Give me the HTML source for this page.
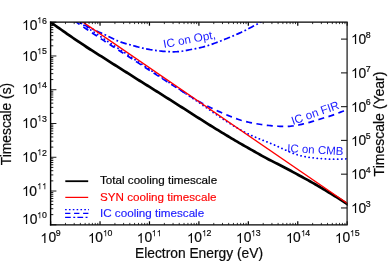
<!DOCTYPE html><html><head><meta charset="utf-8"><style>
html,body{margin:0;padding:0;background:#fff;}body{width:390px;height:271px;position:relative;overflow:hidden;font-family:"Liberation Sans",sans-serif;color:#0a0a0a;}
.t{position:absolute;white-space:nowrap;line-height:1;font-size:13.8px;-webkit-text-stroke:0.2px #0a0a0a;}
.t sup{font-size:8.8px;letter-spacing:-0.5px;position:relative;vertical-align:baseline;top:-6.4px;margin-left:-0.4px;line-height:0}
.o{display:inline-block;width:.556em;height:.72em;vertical-align:baseline;fill:currentColor;overflow:visible}
.l{position:absolute;white-space:nowrap;line-height:1;font-size:11.65px;}
</style></head><body><div id="w" style="position:absolute;left:0;top:0;width:390px;height:271px;will-change:transform">
<svg width="390" height="271" viewBox="0 0 390 271" style="position:absolute;left:0;top:0">
<defs><clipPath id="c"><rect x="50.60" y="22.20" width="297.10" height="202.60"/></clipPath></defs>
<g clip-path="url(#c)" fill="none">
<path d="M40.00,-4.32 L41.56,-3.31 L43.12,-2.29 L44.67,-1.25 L46.23,-0.20 L47.79,0.86 L49.35,1.93 L50.90,3.01 L52.46,4.10 L54.02,5.19 L55.58,6.28 L57.14,7.38 L58.69,8.48 L60.25,9.57 L61.81,10.66 L63.37,11.74 L64.92,12.82 L66.48,13.89 L68.04,14.94 L69.60,15.99 L71.16,17.02 L72.71,18.03 L74.27,19.03 L75.83,20.00 L77.39,20.96 L78.94,21.89 L80.50,22.80 L82.06,23.68 L83.62,24.54 L85.18,25.37 L86.73,26.19 L88.29,27.00 L89.85,27.79 L91.41,28.56 L92.96,29.33 L94.52,30.07 L96.08,30.80 L97.64,31.51 L99.20,32.21 L100.75,32.89 L102.31,33.58 L103.87,34.28 L105.43,34.99 L106.98,35.71 L108.54,36.47 L110.10,37.25 L111.66,38.05 L113.22,38.84 L114.77,39.60 L116.33,40.33 L117.89,40.99 L119.45,41.59 L121.01,42.15 L122.56,42.67 L124.12,43.15 L125.68,43.60 L127.24,44.04 L128.79,44.47 L130.35,44.90 L131.91,45.33 L133.47,45.76 L135.03,46.18 L136.58,46.61 L138.14,47.02 L139.70,47.42 L141.26,47.81 L142.81,48.19 L144.37,48.54 L145.93,48.87 L147.49,49.17 L149.05,49.46 L150.60,49.72 L152.16,49.96 L153.72,50.19 L155.28,50.40 L156.83,50.60 L158.39,50.79 L159.95,50.97 L161.51,51.13 L163.07,51.29 L164.62,51.43 L166.18,51.55 L167.74,51.65 L169.30,51.72 L170.85,51.78 L172.41,51.80 L173.97,51.80 L175.53,51.77 L177.09,51.70 L178.64,51.59 L180.20,51.45 L181.76,51.26 L183.32,51.03 L184.87,50.76 L186.43,50.44 L187.99,50.11 L189.55,49.78 L191.11,49.46 L192.66,49.17 L194.22,48.89 L195.78,48.61 L197.34,48.31 L198.89,47.99 L200.45,47.64 L202.01,47.26 L203.57,46.85 L205.13,46.42 L206.68,45.96 L208.24,45.48 L209.80,44.97 L211.36,44.43 L212.91,43.88 L214.47,43.31 L216.03,42.73 L217.59,42.13 L219.15,41.53 L220.70,40.92 L222.26,40.31 L223.82,39.70 L225.38,39.08 L226.93,38.46 L228.49,37.83 L230.05,37.19 L231.61,36.55 L233.17,35.89 L234.72,35.22 L236.28,34.54 L237.84,33.85 L239.40,33.14 L240.95,32.42 L242.51,31.68 L244.07,30.93 L245.63,30.16 L247.19,29.37 L248.74,28.57 L250.30,27.77 L251.86,26.95 L253.42,26.12 L254.97,25.28 L256.53,24.43 L258.09,23.58 L259.65,22.72 L261.21,21.85 L262.76,20.98 L264.32,20.11 L265.88,19.23 L267.44,18.35 L268.99,17.46 L270.55,16.57 L272.11,15.67 L273.67,14.77 L275.23,13.87 L276.78,12.96 L278.34,12.05 L279.90,11.13 L281.46,10.21 L283.02,9.29 L284.57,8.36 L286.13,7.43 L287.69,6.50 L289.25,5.56 L290.80,4.62 L292.36,3.68 L293.92,2.73 L295.48,1.78 L297.04,0.82 L298.59,-0.13 L300.15,-1.09 L301.71,-2.06 L303.27,-3.02 L304.82,-3.99 L306.38,-4.96 L307.94,-5.93 L309.50,-6.91 L311.06,-7.89 L312.61,-8.87 L314.17,-9.85 L315.73,-10.84 L317.29,-11.83 L318.84,-12.82 L320.40,-13.81 L321.96,-14.81 L323.52,-15.80 L325.08,-16.80 L326.63,-17.80 L328.19,-18.81 L329.75,-19.81 L331.31,-20.82 L332.86,-21.82 L334.42,-22.83 L335.98,-23.84 L337.54,-24.86 L339.10,-25.87 L340.65,-26.89 L342.21,-27.90 L343.77,-28.92 L345.33,-29.94 L346.88,-30.96 L348.44,-31.98 L350.00,-33.00" stroke="#0000ff" stroke-width="1.7" stroke-dasharray="6.5 2.5 1.8 2.5"/>
<path d="M40.00,-2.72 L41.56,-1.66 L43.12,-0.59 L44.67,0.47 L46.23,1.54 L47.79,2.61 L49.35,3.67 L50.90,4.74 L52.46,5.81 L54.02,6.88 L55.58,7.95 L57.14,9.02 L58.69,10.10 L60.25,11.17 L61.81,12.24 L63.37,13.31 L64.92,14.38 L66.48,15.45 L68.04,16.52 L69.60,17.59 L71.16,18.66 L72.71,19.72 L74.27,20.79 L75.83,21.85 L77.39,22.92 L78.94,23.98 L80.50,25.04 L82.06,26.10 L83.62,27.15 L85.18,28.21 L86.73,29.26 L88.29,30.31 L89.85,31.36 L91.41,32.40 L92.96,33.45 L94.52,34.49 L96.08,35.52 L97.64,36.56 L99.20,37.59 L100.75,38.61 L102.31,39.64 L103.87,40.66 L105.43,41.68 L106.98,42.69 L108.54,43.71 L110.10,44.72 L111.66,45.73 L113.22,46.74 L114.77,47.75 L116.33,48.75 L117.89,49.76 L119.45,50.77 L121.01,51.77 L122.56,52.78 L124.12,53.78 L125.68,54.79 L127.24,55.80 L128.79,56.80 L130.35,57.81 L131.91,58.83 L133.47,59.84 L135.03,60.85 L136.58,61.87 L138.14,62.88 L139.70,63.90 L141.26,64.92 L142.81,65.93 L144.37,66.95 L145.93,67.97 L147.49,68.99 L149.05,70.01 L150.60,71.02 L152.16,72.04 L153.72,73.06 L155.28,74.07 L156.83,75.09 L158.39,76.10 L159.95,77.11 L161.51,78.12 L163.07,79.13 L164.62,80.14 L166.18,81.14 L167.74,82.15 L169.30,83.15 L170.85,84.15 L172.41,85.14 L173.97,86.14 L175.53,87.13 L177.09,88.12 L178.64,89.10 L180.20,90.08 L181.76,91.06 L183.32,92.04 L184.87,93.02 L186.43,93.99 L187.99,94.95 L189.55,95.91 L191.11,96.86 L192.66,97.81 L194.22,98.74 L195.78,99.66 L197.34,100.56 L198.89,101.46 L200.45,102.33 L202.01,103.19 L203.57,104.03 L205.13,104.85 L206.68,105.66 L208.24,106.45 L209.80,107.23 L211.36,107.99 L212.91,108.74 L214.47,109.48 L216.03,110.20 L217.59,110.91 L219.15,111.61 L220.70,112.30 L222.26,112.98 L223.82,113.64 L225.38,114.30 L226.93,114.95 L228.49,115.60 L230.05,116.23 L231.61,116.85 L233.17,117.46 L234.72,118.06 L236.28,118.63 L237.84,119.18 L239.40,119.70 L240.95,120.20 L242.51,120.66 L244.07,121.09 L245.63,121.49 L247.19,121.86 L248.74,122.22 L250.30,122.55 L251.86,122.87 L253.42,123.17 L254.97,123.46 L256.53,123.75 L258.09,124.02 L259.65,124.28 L261.21,124.52 L262.76,124.75 L264.32,124.97 L265.88,125.18 L267.44,125.36 L268.99,125.53 L270.55,125.69 L272.11,125.82 L273.67,125.95 L275.23,126.06 L276.78,126.15 L278.34,126.24 L279.90,126.31 L281.46,126.37 L283.02,126.41 L284.57,126.43 L286.13,126.42 L287.69,126.37 L289.25,126.30 L290.80,126.17 L292.36,126.00 L293.92,125.80 L295.48,125.55 L297.04,125.27 L298.59,124.97 L300.15,124.64 L301.71,124.30 L303.27,123.94 L304.82,123.56 L306.38,123.17 L307.94,122.76 L309.50,122.33 L311.06,121.88 L312.61,121.42 L314.17,120.93 L315.73,120.44 L317.29,119.95 L318.84,119.46 L320.40,118.97 L321.96,118.50 L323.52,118.04 L325.08,117.59 L326.63,117.13 L328.19,116.66 L329.75,116.18 L331.31,115.67 L332.86,115.12 L334.42,114.55 L335.98,113.95 L337.54,113.35 L339.10,112.74 L340.65,112.13 L342.21,111.53 L343.77,110.96 L345.33,110.41 L346.88,109.89 L348.44,109.42 L350.00,109.00" stroke="#0000ff" stroke-width="1.7" stroke-dasharray="6 4.5"/>
<path d="M40.00,-4.82 L41.56,-3.75 L43.12,-2.69 L44.67,-1.62 L46.23,-0.56 L47.79,0.51 L49.35,1.58 L50.90,2.65 L52.46,3.72 L54.02,4.79 L55.58,5.86 L57.14,6.93 L58.69,8.00 L60.25,9.07 L61.81,10.14 L63.37,11.21 L64.92,12.28 L66.48,13.35 L68.04,14.42 L69.60,15.49 L71.16,16.56 L72.71,17.63 L74.27,18.70 L75.83,19.77 L77.39,20.83 L78.94,21.90 L80.50,22.97 L82.06,24.03 L83.62,25.10 L85.18,26.16 L86.73,27.22 L88.29,28.28 L89.85,29.34 L91.41,30.40 L92.96,31.46 L94.52,32.52 L96.08,33.57 L97.64,34.62 L99.20,35.68 L100.75,36.73 L102.31,37.77 L103.87,38.82 L105.43,39.87 L106.98,40.91 L108.54,41.95 L110.10,42.99 L111.66,44.04 L113.22,45.08 L114.77,46.12 L116.33,47.16 L117.89,48.20 L119.45,49.24 L121.01,50.28 L122.56,51.31 L124.12,52.35 L125.68,53.40 L127.24,54.44 L128.79,55.48 L130.35,56.52 L131.91,57.57 L133.47,58.61 L135.03,59.66 L136.58,60.70 L138.14,61.75 L139.70,62.80 L141.26,63.84 L142.81,64.89 L144.37,65.94 L145.93,66.99 L147.49,68.04 L149.05,69.09 L150.60,70.13 L152.16,71.18 L153.72,72.23 L155.28,73.27 L156.83,74.32 L158.39,75.36 L159.95,76.41 L161.51,77.45 L163.07,78.49 L164.62,79.53 L166.18,80.57 L167.74,81.61 L169.30,82.64 L170.85,83.68 L172.41,84.71 L173.97,85.75 L175.53,86.79 L177.09,87.82 L178.64,88.86 L180.20,89.89 L181.76,90.93 L183.32,91.97 L184.87,93.02 L186.43,94.06 L187.99,95.11 L189.55,96.15 L191.11,97.21 L192.66,98.26 L194.22,99.32 L195.78,100.38 L197.34,101.45 L198.89,102.52 L200.45,103.59 L202.01,104.67 L203.57,105.75 L205.13,106.84 L206.68,107.92 L208.24,109.01 L209.80,110.09 L211.36,111.18 L212.91,112.26 L214.47,113.34 L216.03,114.41 L217.59,115.48 L219.15,116.54 L220.70,117.59 L222.26,118.64 L223.82,119.68 L225.38,120.70 L226.93,121.71 L228.49,122.72 L230.05,123.70 L231.61,124.68 L233.17,125.64 L234.72,126.58 L236.28,127.50 L237.84,128.41 L239.40,129.30 L240.95,130.17 L242.51,131.02 L244.07,131.84 L245.63,132.65 L247.19,133.44 L248.74,134.20 L250.30,134.94 L251.86,135.66 L253.42,136.36 L254.97,137.03 L256.53,137.70 L258.09,138.35 L259.65,138.99 L261.21,139.62 L262.76,140.24 L264.32,140.86 L265.88,141.49 L267.44,142.11 L268.99,142.74 L270.55,143.37 L272.11,144.02 L273.67,144.68 L275.23,145.35 L276.78,146.04 L278.34,146.74 L279.90,147.46 L281.46,148.18 L283.02,148.90 L284.57,149.62 L286.13,150.33 L287.69,151.02 L289.25,151.71 L290.80,152.37 L292.36,153.00 L293.92,153.60 L295.48,154.17 L297.04,154.70 L298.59,155.18 L300.15,155.61 L301.71,156.01 L303.27,156.36 L304.82,156.68 L306.38,156.97 L307.94,157.22 L309.50,157.45 L311.06,157.66 L312.61,157.85 L314.17,158.02 L315.73,158.18 L317.29,158.33 L318.84,158.47 L320.40,158.61 L321.96,158.73 L323.52,158.83 L325.08,158.93 L326.63,159.01 L328.19,159.08 L329.75,159.13 L331.31,159.17 L332.86,159.19 L334.42,159.20 L335.98,159.19 L337.54,159.16 L339.10,159.12 L340.65,159.07 L342.21,159.01 L343.77,158.93 L345.33,158.86 L346.88,158.77 L348.44,158.69 L350.00,158.60" stroke="#0000ff" stroke-width="1.8" stroke-linecap="round" stroke-dasharray="0.1 4.0"/>
<path d="M46.00,19.09 L47.91,20.42 L49.82,21.74 L51.74,23.07 L53.65,24.41 L55.56,25.74 L57.47,27.08 L59.38,28.41 L61.30,29.75 L63.21,31.10 L65.12,32.44 L67.03,33.77 L68.94,35.10 L70.86,36.43 L72.77,37.75 L74.68,39.06 L76.59,40.37 L78.50,41.66 L80.42,42.95 L82.33,44.22 L84.24,45.49 L86.15,46.75 L88.06,48.00 L89.97,49.25 L91.89,50.46 L93.80,51.68 L95.71,52.88 L97.62,54.08 L99.53,55.28 L101.45,56.47 L103.36,57.66 L105.27,58.86 L107.18,60.06 L109.09,61.27 L111.01,62.51 L112.92,63.76 L114.83,65.00 L116.74,66.24 L118.65,67.46 L120.57,68.67 L122.48,69.87 L124.39,71.07 L126.30,72.26 L128.21,73.46 L130.13,74.67 L132.04,75.88 L133.95,77.09 L135.86,78.31 L137.77,79.53 L139.69,80.76 L141.60,81.95 L143.51,83.14 L145.42,84.33 L147.33,85.52 L149.25,86.71 L151.16,87.91 L153.07,89.10 L154.98,90.30 L156.89,91.50 L158.81,92.70 L160.72,93.91 L162.63,95.11 L164.54,96.32 L166.45,97.53 L168.36,98.74 L170.28,99.95 L172.19,101.16 L174.10,102.37 L176.01,103.59 L177.92,104.80 L179.84,106.02 L181.75,107.24 L183.66,108.46 L185.57,109.68 L187.48,110.91 L189.40,112.13 L191.31,113.36 L193.22,114.58 L195.13,115.81 L197.04,117.03 L198.96,118.25 L200.87,119.46 L202.78,120.68 L204.69,121.88 L206.60,123.09 L208.52,124.29 L210.43,125.48 L212.34,126.67 L214.25,127.86 L216.16,129.04 L218.08,130.21 L219.99,131.38 L221.90,132.55 L223.81,133.71 L225.72,134.86 L227.64,136.02 L229.55,137.17 L231.46,138.31 L233.37,139.45 L235.28,140.57 L237.19,141.69 L239.11,142.80 L241.02,143.89 L242.93,144.99 L244.84,146.07 L246.75,147.16 L248.67,148.25 L250.58,149.33 L252.49,150.42 L254.40,151.51 L256.31,152.60 L258.23,153.69 L260.14,154.77 L262.05,155.84 L263.96,156.89 L265.87,157.93 L267.79,158.94 L269.70,159.94 L271.61,160.92 L273.52,161.88 L275.43,162.85 L277.35,163.81 L279.26,164.77 L281.17,165.75 L283.08,166.73 L284.99,167.73 L286.91,168.74 L288.82,169.76 L290.73,170.79 L292.64,171.82 L294.55,172.86 L296.47,173.91 L298.38,174.95 L300.29,175.99 L302.20,177.04 L304.11,178.09 L306.03,179.14 L307.94,180.19 L309.85,181.26 L311.76,182.33 L313.67,183.41 L315.58,184.51 L317.50,185.62 L319.41,186.73 L321.32,187.86 L323.23,189.00 L325.14,190.15 L327.06,191.31 L328.97,192.48 L330.88,193.66 L332.79,194.84 L334.70,196.03 L336.62,197.23 L338.53,198.44 L340.44,199.66 L342.35,200.88 L344.26,202.11 L346.18,203.34 L348.09,204.59 L350.00,205.84" stroke="#000" stroke-width="2.7"/>
<path d="M50.60,-0.05 L347.50,203.50" stroke="#ff0000" stroke-width="1.4"/>
</g>
<g fill="none" stroke="#000">
<path d="M50.60,224.80 h5.8" stroke-width="0.9"/>
<path d="M50.60,214.64 h2.7" stroke-width="0.9"/>
<path d="M50.60,208.69 h2.7" stroke-width="0.9"/>
<path d="M50.60,204.47 h2.7" stroke-width="0.9"/>
<path d="M50.60,201.20 h2.7" stroke-width="0.9"/>
<path d="M50.60,198.52 h2.7" stroke-width="0.9"/>
<path d="M50.60,196.26 h2.7" stroke-width="0.9"/>
<path d="M50.60,194.31 h2.7" stroke-width="0.9"/>
<path d="M50.60,192.58 h2.7" stroke-width="0.9"/>
<path d="M50.60,191.03 h5.8" stroke-width="0.9"/>
<path d="M50.60,180.87 h2.7" stroke-width="0.9"/>
<path d="M50.60,174.92 h2.7" stroke-width="0.9"/>
<path d="M50.60,170.70 h2.7" stroke-width="0.9"/>
<path d="M50.60,167.43 h2.7" stroke-width="0.9"/>
<path d="M50.60,164.76 h2.7" stroke-width="0.9"/>
<path d="M50.60,162.50 h2.7" stroke-width="0.9"/>
<path d="M50.60,160.54 h2.7" stroke-width="0.9"/>
<path d="M50.60,158.81 h2.7" stroke-width="0.9"/>
<path d="M50.60,157.27 h5.8" stroke-width="0.9"/>
<path d="M50.60,147.10 h2.7" stroke-width="0.9"/>
<path d="M50.60,141.16 h2.7" stroke-width="0.9"/>
<path d="M50.60,136.94 h2.7" stroke-width="0.9"/>
<path d="M50.60,133.66 h2.7" stroke-width="0.9"/>
<path d="M50.60,130.99 h2.7" stroke-width="0.9"/>
<path d="M50.60,128.73 h2.7" stroke-width="0.9"/>
<path d="M50.60,126.77 h2.7" stroke-width="0.9"/>
<path d="M50.60,125.05 h2.7" stroke-width="0.9"/>
<path d="M50.60,123.50 h5.8" stroke-width="0.9"/>
<path d="M50.60,113.34 h2.7" stroke-width="0.9"/>
<path d="M50.60,107.39 h2.7" stroke-width="0.9"/>
<path d="M50.60,103.17 h2.7" stroke-width="0.9"/>
<path d="M50.60,99.90 h2.7" stroke-width="0.9"/>
<path d="M50.60,97.22 h2.7" stroke-width="0.9"/>
<path d="M50.60,94.96 h2.7" stroke-width="0.9"/>
<path d="M50.60,93.01 h2.7" stroke-width="0.9"/>
<path d="M50.60,91.28 h2.7" stroke-width="0.9"/>
<path d="M50.60,89.73 h5.8" stroke-width="0.9"/>
<path d="M50.60,79.57 h2.7" stroke-width="0.9"/>
<path d="M50.60,73.62 h2.7" stroke-width="0.9"/>
<path d="M50.60,69.40 h2.7" stroke-width="0.9"/>
<path d="M50.60,66.13 h2.7" stroke-width="0.9"/>
<path d="M50.60,63.46 h2.7" stroke-width="0.9"/>
<path d="M50.60,61.20 h2.7" stroke-width="0.9"/>
<path d="M50.60,59.24 h2.7" stroke-width="0.9"/>
<path d="M50.60,57.51 h2.7" stroke-width="0.9"/>
<path d="M50.60,55.97 h5.8" stroke-width="0.9"/>
<path d="M50.60,45.80 h2.7" stroke-width="0.9"/>
<path d="M50.60,39.86 h2.7" stroke-width="0.9"/>
<path d="M50.60,35.64 h2.7" stroke-width="0.9"/>
<path d="M50.60,32.36 h2.7" stroke-width="0.9"/>
<path d="M50.60,29.69 h2.7" stroke-width="0.9"/>
<path d="M50.60,27.43 h2.7" stroke-width="0.9"/>
<path d="M50.60,25.47 h2.7" stroke-width="0.9"/>
<path d="M50.60,23.75 h2.7" stroke-width="0.9"/>
<path d="M50.60,22.20 h5.8" stroke-width="0.9"/>
<path d="M50.60,224.80 v-3.5" stroke-width="1.2"/>
<path d="M50.60,22.20 v3.5" stroke-width="1.2"/>
<path d="M65.48,224.80 v-1.9" stroke-width="0.8"/>
<path d="M65.48,22.20 v1.9" stroke-width="0.8"/>
<path d="M74.19,224.80 v-1.9" stroke-width="0.8"/>
<path d="M74.19,22.20 v1.9" stroke-width="0.8"/>
<path d="M80.36,224.80 v-1.9" stroke-width="0.8"/>
<path d="M80.36,22.20 v1.9" stroke-width="0.8"/>
<path d="M85.15,224.80 v-1.9" stroke-width="0.8"/>
<path d="M85.15,22.20 v1.9" stroke-width="0.8"/>
<path d="M89.07,224.80 v-1.9" stroke-width="0.8"/>
<path d="M89.07,22.20 v1.9" stroke-width="0.8"/>
<path d="M92.38,224.80 v-1.9" stroke-width="0.8"/>
<path d="M92.38,22.20 v1.9" stroke-width="0.8"/>
<path d="M95.24,224.80 v-1.9" stroke-width="0.8"/>
<path d="M95.24,22.20 v1.9" stroke-width="0.8"/>
<path d="M97.77,224.80 v-1.9" stroke-width="0.8"/>
<path d="M97.77,22.20 v1.9" stroke-width="0.8"/>
<path d="M100.03,224.80 v-3.5" stroke-width="1.2"/>
<path d="M100.03,22.20 v3.5" stroke-width="1.2"/>
<path d="M114.91,224.80 v-1.9" stroke-width="0.8"/>
<path d="M114.91,22.20 v1.9" stroke-width="0.8"/>
<path d="M123.62,224.80 v-1.9" stroke-width="0.8"/>
<path d="M123.62,22.20 v1.9" stroke-width="0.8"/>
<path d="M129.80,224.80 v-1.9" stroke-width="0.8"/>
<path d="M129.80,22.20 v1.9" stroke-width="0.8"/>
<path d="M134.59,224.80 v-1.9" stroke-width="0.8"/>
<path d="M134.59,22.20 v1.9" stroke-width="0.8"/>
<path d="M138.50,224.80 v-1.9" stroke-width="0.8"/>
<path d="M138.50,22.20 v1.9" stroke-width="0.8"/>
<path d="M141.81,224.80 v-1.9" stroke-width="0.8"/>
<path d="M141.81,22.20 v1.9" stroke-width="0.8"/>
<path d="M144.68,224.80 v-1.9" stroke-width="0.8"/>
<path d="M144.68,22.20 v1.9" stroke-width="0.8"/>
<path d="M147.20,224.80 v-1.9" stroke-width="0.8"/>
<path d="M147.20,22.20 v1.9" stroke-width="0.8"/>
<path d="M149.47,224.80 v-3.5" stroke-width="1.2"/>
<path d="M149.47,22.20 v3.5" stroke-width="1.2"/>
<path d="M164.35,224.80 v-1.9" stroke-width="0.8"/>
<path d="M164.35,22.20 v1.9" stroke-width="0.8"/>
<path d="M173.05,224.80 v-1.9" stroke-width="0.8"/>
<path d="M173.05,22.20 v1.9" stroke-width="0.8"/>
<path d="M179.23,224.80 v-1.9" stroke-width="0.8"/>
<path d="M179.23,22.20 v1.9" stroke-width="0.8"/>
<path d="M184.02,224.80 v-1.9" stroke-width="0.8"/>
<path d="M184.02,22.20 v1.9" stroke-width="0.8"/>
<path d="M187.93,224.80 v-1.9" stroke-width="0.8"/>
<path d="M187.93,22.20 v1.9" stroke-width="0.8"/>
<path d="M191.24,224.80 v-1.9" stroke-width="0.8"/>
<path d="M191.24,22.20 v1.9" stroke-width="0.8"/>
<path d="M194.11,224.80 v-1.9" stroke-width="0.8"/>
<path d="M194.11,22.20 v1.9" stroke-width="0.8"/>
<path d="M196.64,224.80 v-1.9" stroke-width="0.8"/>
<path d="M196.64,22.20 v1.9" stroke-width="0.8"/>
<path d="M198.90,224.80 v-3.5" stroke-width="1.2"/>
<path d="M198.90,22.20 v3.5" stroke-width="1.2"/>
<path d="M213.78,224.80 v-1.9" stroke-width="0.8"/>
<path d="M213.78,22.20 v1.9" stroke-width="0.8"/>
<path d="M222.49,224.80 v-1.9" stroke-width="0.8"/>
<path d="M222.49,22.20 v1.9" stroke-width="0.8"/>
<path d="M228.66,224.80 v-1.9" stroke-width="0.8"/>
<path d="M228.66,22.20 v1.9" stroke-width="0.8"/>
<path d="M233.45,224.80 v-1.9" stroke-width="0.8"/>
<path d="M233.45,22.20 v1.9" stroke-width="0.8"/>
<path d="M237.37,224.80 v-1.9" stroke-width="0.8"/>
<path d="M237.37,22.20 v1.9" stroke-width="0.8"/>
<path d="M240.68,224.80 v-1.9" stroke-width="0.8"/>
<path d="M240.68,22.20 v1.9" stroke-width="0.8"/>
<path d="M243.54,224.80 v-1.9" stroke-width="0.8"/>
<path d="M243.54,22.20 v1.9" stroke-width="0.8"/>
<path d="M246.07,224.80 v-1.9" stroke-width="0.8"/>
<path d="M246.07,22.20 v1.9" stroke-width="0.8"/>
<path d="M248.33,224.80 v-3.5" stroke-width="1.2"/>
<path d="M248.33,22.20 v3.5" stroke-width="1.2"/>
<path d="M263.21,224.80 v-1.9" stroke-width="0.8"/>
<path d="M263.21,22.20 v1.9" stroke-width="0.8"/>
<path d="M271.92,224.80 v-1.9" stroke-width="0.8"/>
<path d="M271.92,22.20 v1.9" stroke-width="0.8"/>
<path d="M278.10,224.80 v-1.9" stroke-width="0.8"/>
<path d="M278.10,22.20 v1.9" stroke-width="0.8"/>
<path d="M282.89,224.80 v-1.9" stroke-width="0.8"/>
<path d="M282.89,22.20 v1.9" stroke-width="0.8"/>
<path d="M286.80,224.80 v-1.9" stroke-width="0.8"/>
<path d="M286.80,22.20 v1.9" stroke-width="0.8"/>
<path d="M290.11,224.80 v-1.9" stroke-width="0.8"/>
<path d="M290.11,22.20 v1.9" stroke-width="0.8"/>
<path d="M292.98,224.80 v-1.9" stroke-width="0.8"/>
<path d="M292.98,22.20 v1.9" stroke-width="0.8"/>
<path d="M295.50,224.80 v-1.9" stroke-width="0.8"/>
<path d="M295.50,22.20 v1.9" stroke-width="0.8"/>
<path d="M297.77,224.80 v-3.5" stroke-width="1.2"/>
<path d="M297.77,22.20 v3.5" stroke-width="1.2"/>
<path d="M312.65,224.80 v-1.9" stroke-width="0.8"/>
<path d="M312.65,22.20 v1.9" stroke-width="0.8"/>
<path d="M321.35,224.80 v-1.9" stroke-width="0.8"/>
<path d="M321.35,22.20 v1.9" stroke-width="0.8"/>
<path d="M327.53,224.80 v-1.9" stroke-width="0.8"/>
<path d="M327.53,22.20 v1.9" stroke-width="0.8"/>
<path d="M332.32,224.80 v-1.9" stroke-width="0.8"/>
<path d="M332.32,22.20 v1.9" stroke-width="0.8"/>
<path d="M336.23,224.80 v-1.9" stroke-width="0.8"/>
<path d="M336.23,22.20 v1.9" stroke-width="0.8"/>
<path d="M339.54,224.80 v-1.9" stroke-width="0.8"/>
<path d="M339.54,22.20 v1.9" stroke-width="0.8"/>
<path d="M342.41,224.80 v-1.9" stroke-width="0.8"/>
<path d="M342.41,22.20 v1.9" stroke-width="0.8"/>
<path d="M344.94,224.80 v-1.9" stroke-width="0.8"/>
<path d="M344.94,22.20 v1.9" stroke-width="0.8"/>
<path d="M347.20,224.80 v-3.5" stroke-width="1.2"/>
<path d="M347.20,22.20 v3.5" stroke-width="1.2"/>
<path d="M347.20,207.95 h-6.2" stroke="#1c1c1c" stroke-width="1.1"/>
<path d="M347.20,174.18 h-6.2" stroke="#1c1c1c" stroke-width="1.1"/>
<path d="M347.20,140.41 h-6.2" stroke="#1c1c1c" stroke-width="1.1"/>
<path d="M347.20,106.65 h-6.2" stroke="#1c1c1c" stroke-width="1.1"/>
<path d="M347.20,72.88 h-6.2" stroke="#1c1c1c" stroke-width="1.1"/>
<path d="M347.20,39.11 h-6.2" stroke="#1c1c1c" stroke-width="1.1"/>
<path d="M50.60,21.50 V225.50" stroke-width="1.4"/>
<path d="M49.90,22.20 H347.70" stroke-width="1.3"/>
<path d="M49.90,224.80 H347.70" stroke-width="1.3"/>
<path d="M347.10,22.20 V224.80" stroke="#1c1c1c" stroke-width="1.25"/>
</g>
<g fill="none">
<path d="M65.3,181.2 H88.2" stroke="#000" stroke-width="1.8"/>
<path d="M65.3,197.4 H88.2" stroke="#ff0000" stroke-width="1.25"/>
<path d="M65.1,209.5 H89" stroke="#0000ff" stroke-width="1.25" stroke-dasharray="1.6 2.24"/>
<path d="M65.1,213.3 H88.7" stroke="#0000ff" stroke-width="1.25" stroke-dasharray="5.3 3.7"/>
<path d="M65.1,217.3 H88" stroke="#0000ff" stroke-width="1.25" stroke-dasharray="5.7 2.5 1.9 2.2"/>
</g>
</svg>
<div class="t" style="right:343.60px;top:213.35px"><svg class="o" viewBox="0 -720 556 720"><path d="M373 0H285V-560Q253-530 202-500Q150-470 109-455V-540Q183-575 238-624Q293-674 316-720H373Z"/></svg>0<sup><svg class="o" viewBox="0 -720 556 720"><path d="M373 0H285V-560Q253-530 202-500Q150-470 109-455V-540Q183-575 238-624Q293-674 316-720H373Z"/></svg>0</sup></div>
<div class="t" style="right:343.60px;top:184.68px"><svg class="o" viewBox="0 -720 556 720"><path d="M373 0H285V-560Q253-530 202-500Q150-470 109-455V-540Q183-575 238-624Q293-674 316-720H373Z"/></svg>0<sup><svg class="o" viewBox="0 -720 556 720"><path d="M373 0H285V-560Q253-530 202-500Q150-470 109-455V-540Q183-575 238-624Q293-674 316-720H373Z"/></svg><svg class="o" viewBox="0 -720 556 720"><path d="M373 0H285V-560Q253-530 202-500Q150-470 109-455V-540Q183-575 238-624Q293-674 316-720H373Z"/></svg></sup></div>
<div class="t" style="right:343.60px;top:150.92px"><svg class="o" viewBox="0 -720 556 720"><path d="M373 0H285V-560Q253-530 202-500Q150-470 109-455V-540Q183-575 238-624Q293-674 316-720H373Z"/></svg>0<sup><svg class="o" viewBox="0 -720 556 720"><path d="M373 0H285V-560Q253-530 202-500Q150-470 109-455V-540Q183-575 238-624Q293-674 316-720H373Z"/></svg>2</sup></div>
<div class="t" style="right:343.60px;top:117.15px"><svg class="o" viewBox="0 -720 556 720"><path d="M373 0H285V-560Q253-530 202-500Q150-470 109-455V-540Q183-575 238-624Q293-674 316-720H373Z"/></svg>0<sup><svg class="o" viewBox="0 -720 556 720"><path d="M373 0H285V-560Q253-530 202-500Q150-470 109-455V-540Q183-575 238-624Q293-674 316-720H373Z"/></svg>3</sup></div>
<div class="t" style="right:343.60px;top:83.38px"><svg class="o" viewBox="0 -720 556 720"><path d="M373 0H285V-560Q253-530 202-500Q150-470 109-455V-540Q183-575 238-624Q293-674 316-720H373Z"/></svg>0<sup><svg class="o" viewBox="0 -720 556 720"><path d="M373 0H285V-560Q253-530 202-500Q150-470 109-455V-540Q183-575 238-624Q293-674 316-720H373Z"/></svg>4</sup></div>
<div class="t" style="right:343.60px;top:49.62px"><svg class="o" viewBox="0 -720 556 720"><path d="M373 0H285V-560Q253-530 202-500Q150-470 109-455V-540Q183-575 238-624Q293-674 316-720H373Z"/></svg>0<sup><svg class="o" viewBox="0 -720 556 720"><path d="M373 0H285V-560Q253-530 202-500Q150-470 109-455V-540Q183-575 238-624Q293-674 316-720H373Z"/></svg>5</sup></div>
<div class="t" style="right:343.60px;top:19.15px"><svg class="o" viewBox="0 -720 556 720"><path d="M373 0H285V-560Q253-530 202-500Q150-470 109-455V-540Q183-575 238-624Q293-674 316-720H373Z"/></svg>0<sup><svg class="o" viewBox="0 -720 556 720"><path d="M373 0H285V-560Q253-530 202-500Q150-470 109-455V-540Q183-575 238-624Q293-674 316-720H373Z"/></svg>6</sup></div>
<div class="t" style="left:350.80px;top:202.00px"><svg class="o" viewBox="0 -720 556 720"><path d="M373 0H285V-560Q253-530 202-500Q150-470 109-455V-540Q183-575 238-624Q293-674 316-720H373Z"/></svg>0<sup>3</sup></div>
<div class="t" style="left:350.80px;top:168.23px"><svg class="o" viewBox="0 -720 556 720"><path d="M373 0H285V-560Q253-530 202-500Q150-470 109-455V-540Q183-575 238-624Q293-674 316-720H373Z"/></svg>0<sup>4</sup></div>
<div class="t" style="left:350.80px;top:134.46px"><svg class="o" viewBox="0 -720 556 720"><path d="M373 0H285V-560Q253-530 202-500Q150-470 109-455V-540Q183-575 238-624Q293-674 316-720H373Z"/></svg>0<sup>5</sup></div>
<div class="t" style="left:350.80px;top:100.70px"><svg class="o" viewBox="0 -720 556 720"><path d="M373 0H285V-560Q253-530 202-500Q150-470 109-455V-540Q183-575 238-624Q293-674 316-720H373Z"/></svg>0<sup>6</sup></div>
<div class="t" style="left:350.80px;top:66.93px"><svg class="o" viewBox="0 -720 556 720"><path d="M373 0H285V-560Q253-530 202-500Q150-470 109-455V-540Q183-575 238-624Q293-674 316-720H373Z"/></svg>0<sup>7</sup></div>
<div class="t" style="left:350.80px;top:33.16px"><svg class="o" viewBox="0 -720 556 720"><path d="M373 0H285V-560Q253-530 202-500Q150-470 109-455V-540Q183-575 238-624Q293-674 316-720H373Z"/></svg>0<sup>8</sup></div>
<div class="t" style="left:50.40px;top:231.45px;transform:translateX(-50%)"><svg class="o" viewBox="0 -720 556 720"><path d="M373 0H285V-560Q253-530 202-500Q150-470 109-455V-540Q183-575 238-624Q293-674 316-720H373Z"/></svg>0<sup>9</sup></div>
<div class="t" style="left:99.83px;top:231.45px;transform:translateX(-50%)"><svg class="o" viewBox="0 -720 556 720"><path d="M373 0H285V-560Q253-530 202-500Q150-470 109-455V-540Q183-575 238-624Q293-674 316-720H373Z"/></svg>0<sup><svg class="o" viewBox="0 -720 556 720"><path d="M373 0H285V-560Q253-530 202-500Q150-470 109-455V-540Q183-575 238-624Q293-674 316-720H373Z"/></svg>0</sup></div>
<div class="t" style="left:149.27px;top:231.45px;transform:translateX(-50%)"><svg class="o" viewBox="0 -720 556 720"><path d="M373 0H285V-560Q253-530 202-500Q150-470 109-455V-540Q183-575 238-624Q293-674 316-720H373Z"/></svg>0<sup><svg class="o" viewBox="0 -720 556 720"><path d="M373 0H285V-560Q253-530 202-500Q150-470 109-455V-540Q183-575 238-624Q293-674 316-720H373Z"/></svg><svg class="o" viewBox="0 -720 556 720"><path d="M373 0H285V-560Q253-530 202-500Q150-470 109-455V-540Q183-575 238-624Q293-674 316-720H373Z"/></svg></sup></div>
<div class="t" style="left:198.70px;top:231.45px;transform:translateX(-50%)"><svg class="o" viewBox="0 -720 556 720"><path d="M373 0H285V-560Q253-530 202-500Q150-470 109-455V-540Q183-575 238-624Q293-674 316-720H373Z"/></svg>0<sup><svg class="o" viewBox="0 -720 556 720"><path d="M373 0H285V-560Q253-530 202-500Q150-470 109-455V-540Q183-575 238-624Q293-674 316-720H373Z"/></svg>2</sup></div>
<div class="t" style="left:248.13px;top:231.45px;transform:translateX(-50%)"><svg class="o" viewBox="0 -720 556 720"><path d="M373 0H285V-560Q253-530 202-500Q150-470 109-455V-540Q183-575 238-624Q293-674 316-720H373Z"/></svg>0<sup><svg class="o" viewBox="0 -720 556 720"><path d="M373 0H285V-560Q253-530 202-500Q150-470 109-455V-540Q183-575 238-624Q293-674 316-720H373Z"/></svg>3</sup></div>
<div class="t" style="left:297.57px;top:231.45px;transform:translateX(-50%)"><svg class="o" viewBox="0 -720 556 720"><path d="M373 0H285V-560Q253-530 202-500Q150-470 109-455V-540Q183-575 238-624Q293-674 316-720H373Z"/></svg>0<sup><svg class="o" viewBox="0 -720 556 720"><path d="M373 0H285V-560Q253-530 202-500Q150-470 109-455V-540Q183-575 238-624Q293-674 316-720H373Z"/></svg>4</sup></div>
<div class="t" style="left:347.00px;top:231.45px;transform:translateX(-50%)"><svg class="o" viewBox="0 -720 556 720"><path d="M373 0H285V-560Q253-530 202-500Q150-470 109-455V-540Q183-575 238-624Q293-674 316-720H373Z"/></svg>0<sup><svg class="o" viewBox="0 -720 556 720"><path d="M373 0H285V-560Q253-530 202-500Q150-470 109-455V-540Q183-575 238-624Q293-674 316-720H373Z"/></svg>5</sup></div>
<div class="t" style="left:199.0px;top:247.3px;transform:translateX(-50%)">Electron Energy (eV)</div>
<div class="t" style="left:7.3px;top:124.0px;transform:translate(-50%,-50%) rotate(-90deg)">Timescale (s)</div>
<div class="t" style="left:378.8px;top:124.4px;font-size:14.0px;transform:translate(-50%,-50%) rotate(-90deg)">Timescale (Year)</div>
<div class="l" style="left:100.0px;top:173.9px;color:#050505;-webkit-text-stroke:0.2px #050505">Total cooling timescale</div>
<div class="l" style="left:100.0px;top:190.6px;color:#ff0000;-webkit-text-stroke:0.15px #ff0000">SYN cooling timescale</div>
<div class="l" style="left:100.0px;top:207.3px;color:#1a1aff;-webkit-text-stroke:0.15px #1a1aff">IC cooling timescale</div>
<div class="l" style="left:164.30px;top:38.44px;font-size:11.65px;color:#1a1aff;transform-origin:0 9.86px;transform:rotate(-10.50deg)">IC on Opt,</div>
<div class="l" style="left:293.20px;top:114.64px;font-size:11.65px;color:#1a1aff;transform-origin:0 9.86px;transform:rotate(-19.50deg)">IC on FIR</div>
<div class="l" style="left:286.90px;top:142.87px;font-size:11.50px;color:#1a1aff;transform-origin:0 9.73px;transform:rotate(3.30deg)">IC on CMB</div>
</div></body></html>
